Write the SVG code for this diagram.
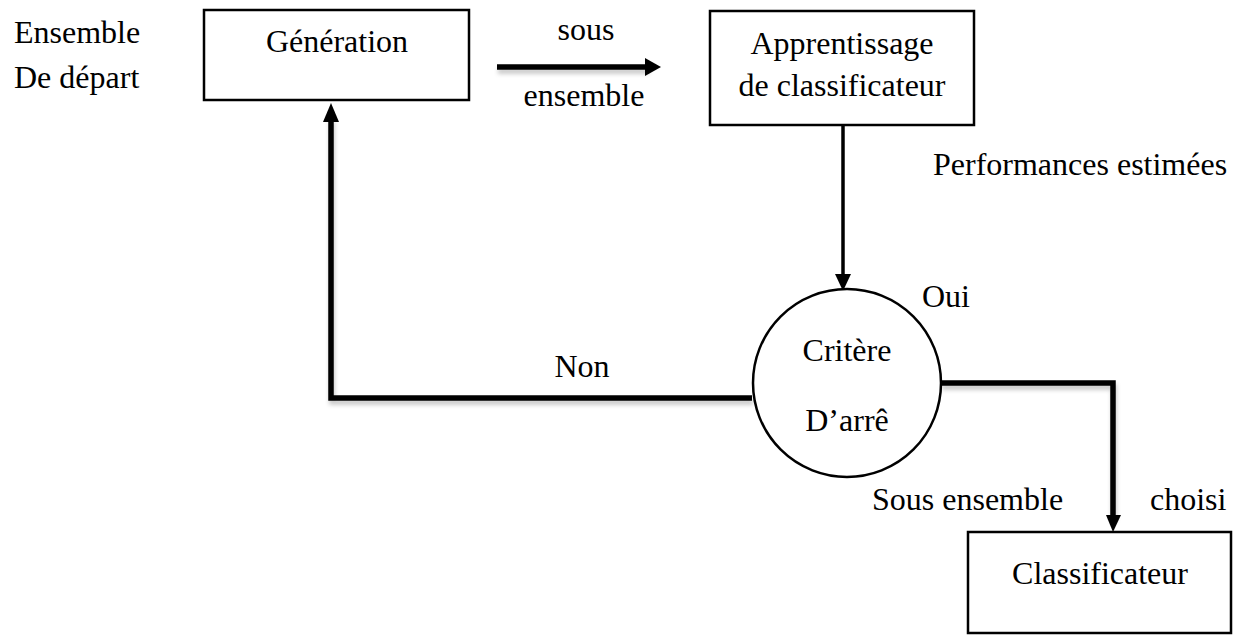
<svg xmlns="http://www.w3.org/2000/svg" width="1246" height="635" viewBox="0 0 1246 635">
<defs>
<style>
text{font-family:"Liberation Serif","Times New Roman",serif;font-size:32px;fill:#000}
.box{fill:#fff;stroke:#000;stroke-width:2.5}
.thick{fill:none;stroke:#000;stroke-width:5.5;filter:url(#sh)}
.thin{fill:none;stroke:#000;stroke-width:3.5}
.mid{text-anchor:middle}
</style>
<filter id="sh" filterUnits="userSpaceOnUse" x="0" y="0" width="1246" height="635">
<feDropShadow dx="1" dy="4" stdDeviation="2" flood-color="#000" flood-opacity="0.22"/>
</filter>
</defs>
<g id="labels">
<text x="14" y="43">Ensemble</text>
<text x="14" y="88">De départ</text>
<text class="mid" x="586" y="40">sous</text>
<text class="mid" x="584" y="106">ensemble</text>
<text x="933" y="175">Performances estimées</text>
<text x="922" y="307">Oui</text>
<text class="mid" x="582" y="377">Non</text>
<text x="872" y="510">Sous ensemble</text>
<text x="1150" y="510">choisi</text>
</g>
<g id="connectors">
<path class="thick" d="M497 67 H648"/>
<polygon points="645,58 661,67 645,76"/>
<path class="thin" d="M843 125 V276"/>
<polygon points="835,274 851,274 843,291"/>
<path class="thick" d="M752 398 H331 V118"/>
<polygon points="323,122 339,122 331,103"/>
<path class="thick" d="M941 383 H1113 V518"/>
<polygon points="1106,515 1121,515 1113,532"/>
</g>
<g id="generation">
<rect class="box" x="204" y="10" width="265" height="90"/>
<text class="mid" x="337" y="52">Génération</text>
</g>
<g id="apprentissage">
<rect class="box" x="710" y="11" width="264" height="114"/>
<text class="mid" x="842" y="54">Apprentissage</text>
<text class="mid" x="842" y="96">de classificateur</text>
</g>
<g id="critere">
<circle cx="847" cy="383" r="94" fill="#fff" stroke="#000" stroke-width="2.5"/>
<text class="mid" x="847" y="361">Critère</text>
<text class="mid" x="847" y="431">D’arrê</text>
</g>
<g id="classificateur">
<rect class="box" x="968" y="532" width="263" height="101"/>
<text class="mid" x="1100" y="584">Classificateur</text>
</g>
</svg>
